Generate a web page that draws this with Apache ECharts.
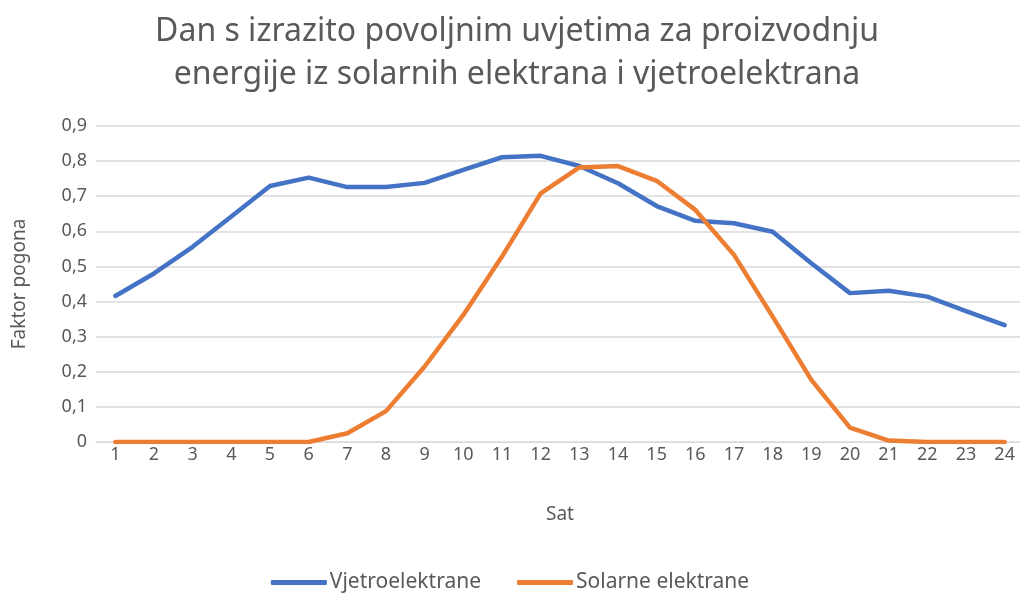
<!DOCTYPE html>
<html>
<head>
<meta charset="utf-8">
<script src="https://cdn.jsdelivr.net/npm/echarts@6/dist/echarts.min.js"></script>
<style>
  html, body { margin: 0; padding: 0; background: #fff; }
  #chart { width: 1020px; height: 594px; }
</style>
</head>
<body>
<div id="chart"></div>
<script>
// sati 1..24
const hours = ['1', '2', '3', '4', '5', '6', '7', '8', '9', '10', '11', '12',
  '13', '14', '15', '16', '17', '18', '19', '20', '21', '22', '23', '24'];

// faktor pogona - vjetroelektrane
const windValues = [0.416, 0.48, 0.556, 0.642, 0.729, 0.753, 0.726, 0.726, 0.738, 0.775, 0.811, 0.815,
  0.786, 0.737, 0.672, 0.63, 0.623, 0.599, 0.509, 0.424, 0.431, 0.414, 0.373, 0.333];

// faktor pogona - solarne elektrane
const solarValues = [0, 0, 0, 0, 0, 0, 0.025, 0.088, 0.215, 0.362, 0.528, 0.708,
  0.782, 0.786, 0.744, 0.661, 0.533, 0.357, 0.177, 0.041, 0.004, 0, 0, 0];

const seriesNames = ['Vjetroelektrane', 'Solarne elektrane'];
const textColor = '#595959';
const fontName = 'Noto Sans';

const chart = echarts.init(document.getElementById('chart'));

chart.setOption({
  animation: false,
  backgroundColor: '#fff',
  color: ['#4472C4', '#ED7D31'],
  title: {
    text: 'Dan s izrazito povoljnim uvjetima za proizvodnju\nenergije iz solarnih elektrana i vjetroelektrana',
    left: 512,
    textAlign: 'center',
    top: 5,
    textStyle: { color: textColor, fontFamily: fontName, fontWeight: 'normal', fontSize: 32, lineHeight: 43 }
  },
  legend: {
    top: 567,
    left: 'center',
    icon: 'roundRect',
    itemWidth: 56,
    itemHeight: 5,
    itemGap: 36,
    textStyle: { color: textColor, fontFamily: fontName, fontSize: 21, padding: [0, 0, 0, -2] },
    data: seriesNames
  },
  grid: { left: 96, top: 126, width: 928, height: 316, outerBoundsMode: 'none' },
  xAxis: {
    type: 'category',
    data: hours,
    name: 'Sat',
    nameLocation: 'middle',
    nameGap: 63,
    nameTextStyle: { color: textColor, fontFamily: fontName, fontSize: 19 },
    axisLine: { lineStyle: { color: '#d9d9d9' } },
    axisTick: { show: false },
    axisLabel: { color: textColor, fontFamily: fontName, fontSize: 18, margin: 4 }
  },
  yAxis: {
    type: 'value',
    min: 0,
    max: 0.9,
    interval: 0.1,
    name: 'Faktor pogona',
    nameLocation: 'middle',
    nameGap: 67,
    nameTextStyle: { color: textColor, fontFamily: fontName, fontSize: 19 },
    axisLabel: {
      color: textColor, fontFamily: fontName, fontSize: 18, margin: 9,
      formatter: v => v === 0 ? '0' : v.toFixed(1).replace('.', ',')
    },
    splitLine: { lineStyle: { color: '#d9d9d9', width: 1.5 } }
  },
  series: [
    {
      name: seriesNames[0],
      type: 'line',
      data: windValues,
      symbol: 'none',
      lineStyle: { width: 4.5, cap: 'round', join: 'round' }
    },
    {
      name: seriesNames[1],
      type: 'line',
      data: solarValues,
      symbol: 'none',
      lineStyle: { width: 4.5, cap: 'round', join: 'round' }
    }
  ]
});
</script>
</body>
</html>
